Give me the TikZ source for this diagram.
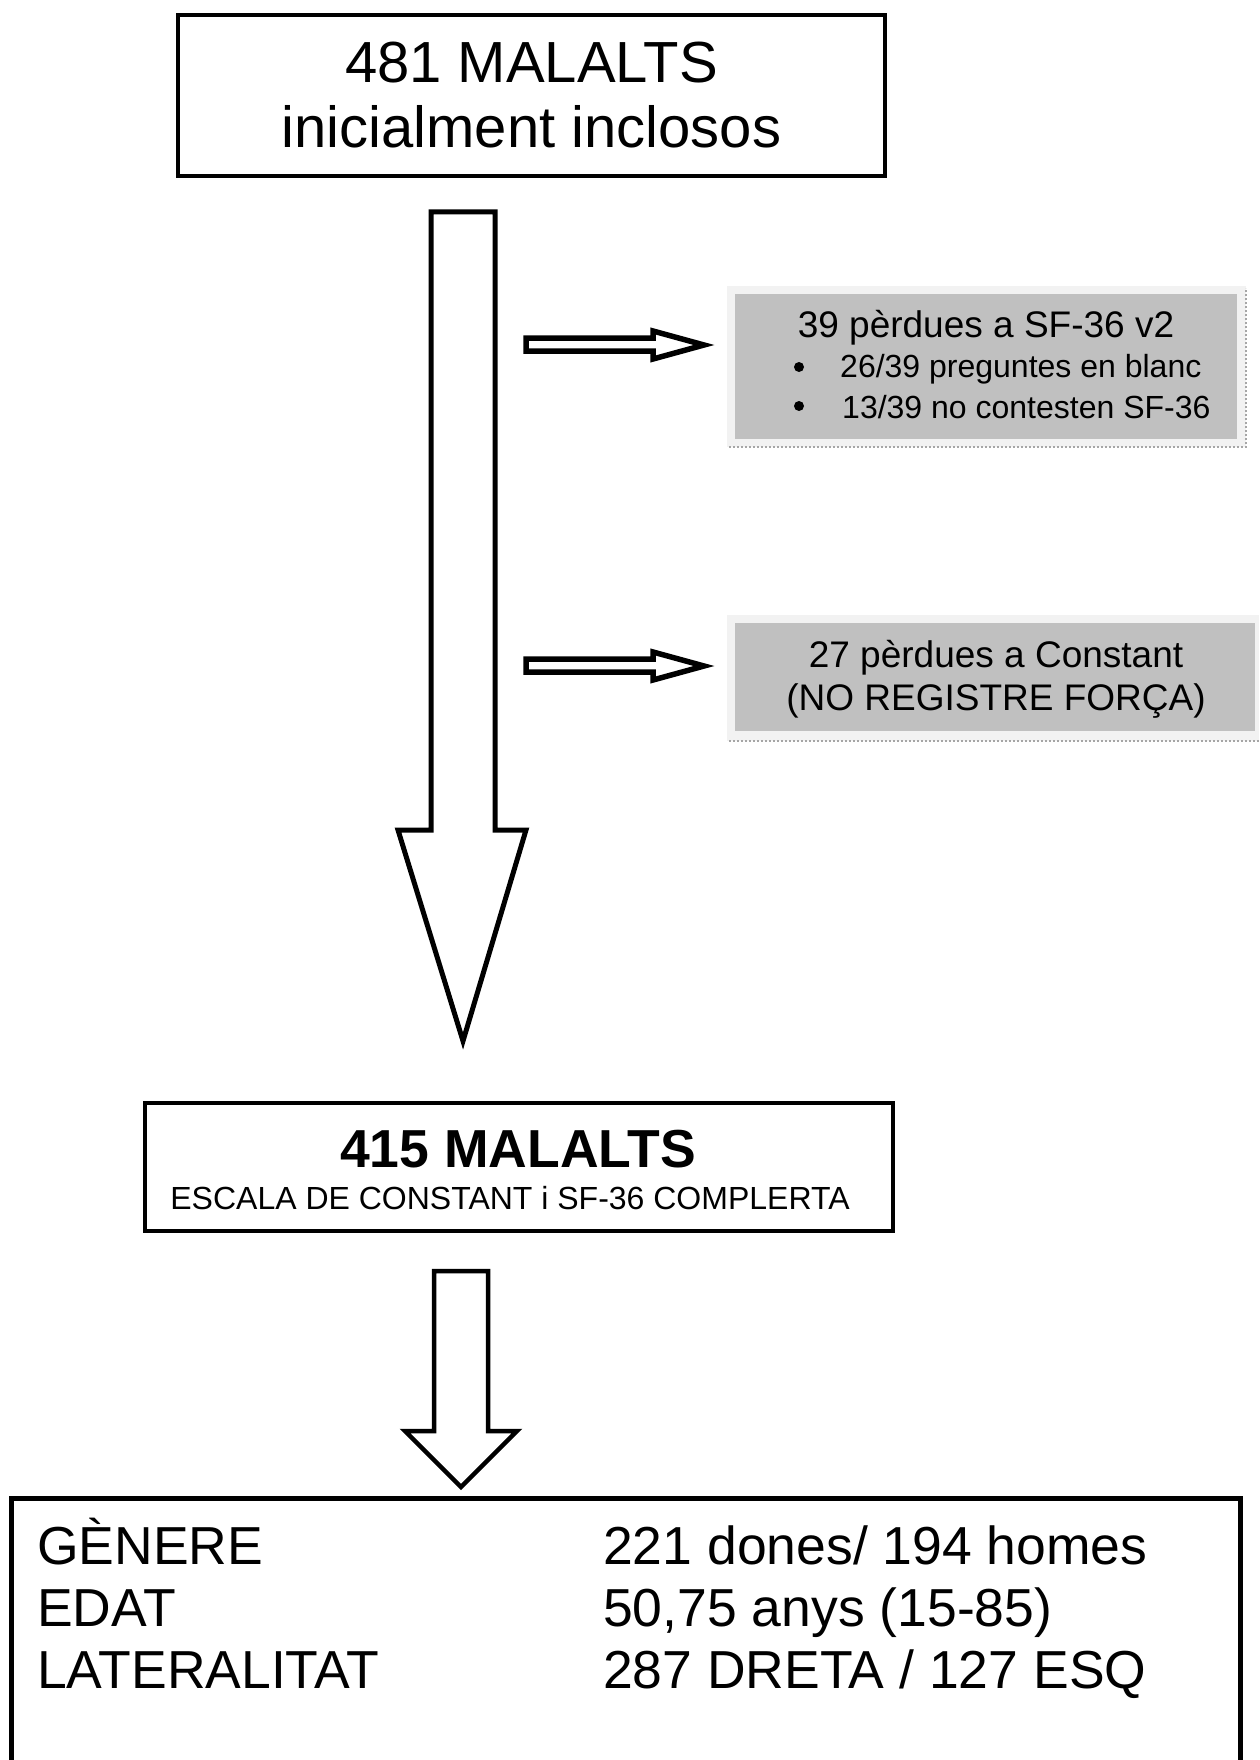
\documentclass[tikz,border=0pt]{standalone}
\usepackage{fontspec}
\setmainfont{Liberation Sans}
\definecolor{boxgrey}{HTML}{C0C0C0}
\definecolor{framegrey}{HTML}{F2F2F2}
\begin{document}
\begin{tikzpicture}[x=1pt,y=-1pt,
  whitebox/.style={draw=black, fill=white, line width=4.5pt, inner sep=0pt},
  blockarrow/.style={draw=black, fill=white, line width=5pt, miter limit=10},
  lossframe/.style={fill=framegrey, draw=none},
  lossbox/.style={fill=boxgrey, draw=none, inner sep=0pt},
  shadowline/.style={draw=gray!70, line width=2pt, dotted},
  bulletdot/.style={circle, fill=black, inner sep=0pt, minimum size=10pt},
  f58/.style={font=\fontsize{58}{67}\selectfont},
  f53/.style={font=\fontsize{53.5}{62}\selectfont},
  f37/.style={font=\fontsize{37}{43}\selectfont},
  f32/.style={font=\fontsize{32}{38}\selectfont},
]
\useasboundingbox[fill=white] (0,0) rectangle (1259,1760);
\clip (0,0) rectangle (1259,1760);

% top box
\node[whitebox, minimum width=707pt, minimum height=161pt, align=center, f58] (top) at (531.5,95.5) {481 MALALTS\\[-2pt]inicialment inclosos};

% main block arrow
\draw[blockarrow] (431,212) -- (495,212) -- (495,830) -- (526,830) -- (463,1041) -- (398,830) -- (431,830) -- cycle;

% loss box 1
\fill[lossframe] (727,286) rectangle (1246,447);
\draw[shadowline] (729,447) -- (1246,447) -- (1246,288);
\node[lossbox, minimum width=502pt, minimum height=145pt] (loss1) at (986,366.5) {};
\node[f37] (loss1t) at (986,328) {39 pèrdues a SF-36 v2};
\node[bulletdot] (b1) at (799,367) {};
\node[f32, anchor=west, inner sep=0pt] (loss1a) at (840,369) {26/39 preguntes en blanc};
\node[bulletdot] (b2) at (799,406) {};
\node[f32, anchor=west, inner sep=0pt] (loss1b) at (842,407) {13/39 no contesten SF-36};

% small arrow 1
\draw[blockarrow, line width=5.5pt] (526,338) -- (653,338) -- (653,331) -- (704,345) -- (653,359) -- (653,351) -- (526,351) -- cycle;

% loss box 2
\fill[lossframe] (727,615) rectangle (1259,741);
\draw[shadowline] (729,741) -- (1259,741);
\node[lossbox, minimum width=520pt, minimum height=108pt] (loss2) at (995,677) {};
\node[f37] (loss2a) at (996,658) {27 pèrdues a Constant};
\node[f37] (loss2b) at (996,701) {(NO REGISTRE FORÇA)};

% small arrow 2
\draw[blockarrow, line width=5.5pt] (526,659) -- (653,659) -- (653,652) -- (704,666) -- (653,680) -- (653,672) -- (526,672) -- cycle;

% middle box
\node[whitebox, minimum width=748pt, minimum height=128pt] (mid) at (519,1167) {};
\node[font=\fontsize{53.5}{62}\selectfont\bfseries] (midt) at (518,1149) {415 MALALTS};
\node[f32] (mids) at (510,1198) {ESCALA DE CONSTANT i SF-36 COMPLERTA};

% lower block arrow
\draw[blockarrow, line width=4.5pt] (434,1271) -- (488,1271) -- (488,1431) -- (517,1431) -- (461,1487) -- (405,1431) -- (434,1431) -- cycle;

% bottom box
\draw[draw=black, line width=5pt] (11,1498) rectangle (1240,1800);
\node[f53, anchor=base west, inner sep=0pt] (g1) at (37,1564) {GÈNERE};
\node[f53, anchor=base west, inner sep=0pt] (g2) at (37,1626) {EDAT};
\node[f53, anchor=base west, inner sep=0pt] (g3) at (37,1688) {LATERALITAT};
\node[f53, anchor=base west, inner sep=0pt] (v1) at (603,1564) {221 dones/ 194 homes};
\node[f53, anchor=base west, inner sep=0pt] (v2) at (603,1626) {50,75 anys (15-85)};
\node[f53, anchor=base west, inner sep=0pt] (v3) at (603,1688) {287 DRETA / 127 ESQ};
\end{tikzpicture}
\end{document}
